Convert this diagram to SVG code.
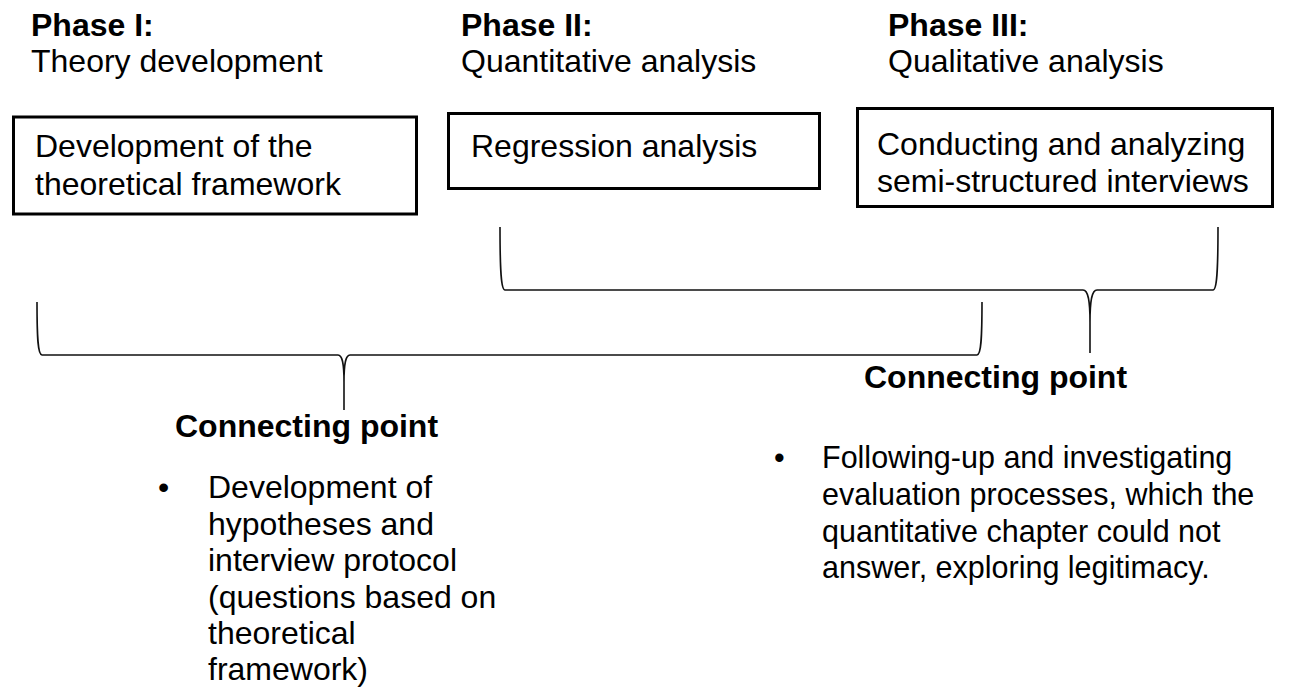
<svg xmlns="http://www.w3.org/2000/svg" width="1290" height="687" viewBox="0 0 1290 687">
  <style>
    text { font-family: "Liberation Sans", Arial, sans-serif; font-size: 32px; fill: #000; }
    .b { font-weight: bold; }
    .s { font-size: 30.5px; }
    .box { fill: #fff; stroke: #000; stroke-width: 3; }
    .brace { fill: none; stroke: #111; stroke-width: 1.6; }
  </style>
  <rect width="1290" height="687" fill="#fff"/>

  <!-- Phase headings -->
  <g id="phase1">
    <text class="b" x="31" y="36">Phase I:</text>
    <text x="31" y="72">Theory development</text>
  </g>
  <g id="phase2">
    <text class="b" x="461" y="36">Phase II:</text>
    <text x="461" y="72">Quantitative analysis</text>
  </g>
  <g id="phase3">
    <text class="b" x="888" y="36">Phase III:</text>
    <text x="888" y="72">Qualitative analysis</text>
  </g>

  <!-- Phase boxes -->
  <g id="box1">
    <rect class="box" x="13.5" y="117" width="403" height="97"/>
    <text x="35" y="157">Development of the</text>
    <text x="35" y="195">theoretical framework</text>
  </g>
  <g id="box2">
    <rect class="box" x="448.5" y="113.5" width="371" height="75"/>
    <text x="471" y="157">Regression analysis</text>
  </g>
  <g id="box3">
    <rect class="box" x="857.5" y="108.5" width="415" height="98"/>
    <text x="877" y="155">Conducting and analyzing</text>
    <text x="877" y="192">semi-structured interviews</text>
  </g>

  <!-- Braces linking the phases -->
  <g id="connectors">
    <path class="brace" d="M37,302 C37,340 38,355 42,355 L338,355 C342,355 344,362 344,382 L344,410 M344,382 C344,362 346,355 350,355 L977,355 C981,355 982,340 982,302"/>
    <path class="brace" d="M500,227 C500,270 501,290 505,290 L1083,290 C1088,290 1090,300 1090,322 L1090,353 M1090,322 C1090,300 1092,290 1097,290 L1213,290 C1217,290 1218,270 1218,227"/>
  </g>

  <!-- Connecting point: theory to quantitative/qualitative -->
  <g id="connect1">
    <text class="b" x="175" y="437">Connecting point</text>
    <text x="158" y="498">•</text>
    <text x="208" y="498">Development of</text>
    <text x="208" y="534.5">hypotheses and</text>
    <text x="208" y="571">interview protocol</text>
    <text x="208" y="607.5">(questions based on</text>
    <text x="208" y="644">theoretical</text>
    <text x="208" y="680">framework)</text>
  </g>

  <!-- Connecting point: quantitative to qualitative -->
  <g id="connect2">
    <text class="b" x="864" y="388">Connecting point</text>
    <text class="s" x="774" y="468">•</text>
    <text class="s" x="822" y="468">Following-up and investigating</text>
    <text class="s" x="822" y="505">evaluation processes, which the</text>
    <text class="s" x="822" y="541.5">quantitative chapter could not</text>
    <text class="s" x="822" y="578">answer, exploring legitimacy.</text>
  </g>
</svg>
